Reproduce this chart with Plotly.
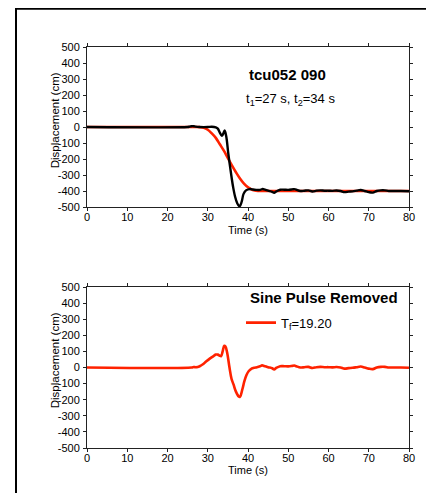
import plotly.graph_objects as go

# ---------------- data ----------------
# Top panel: recorded displacement (black)
t_rec = [0, 25, 25.5, 26, 26.5, 27, 28, 30, 31, 32, 32.5, 33, 33.5, 33.8, 34.2, 34.6,
         35.1, 35.5, 35.9, 36.3, 36.8, 37.3, 37.9, 38.4, 38.9, 39.5, 40.5, 41, 42, 43,
         43.5, 44, 45, 46, 46.5, 47, 48, 49, 50, 51, 51.5, 52, 53, 54, 55, 56, 57, 58,
         59, 60, 61, 62, 63, 64, 65, 66, 67, 68, 69, 70, 71, 72, 73, 74, 75, 76, 78, 80]
d_rec = [0, 0, 2, 5, 5, 2, 0, 0, 2, -2, -10, -35, -55, -45, -22, -60,
         -165, -240, -311, -375, -436, -475, -496, -470, -418, -396, -388, -390, -393, -393,
         -388, -390, -398, -405, -412, -403, -392, -392, -393, -390, -388, -392, -400, -398,
         -396, -403, -398, -396, -398, -398, -399, -397, -400, -407, -404, -402, -398, -394,
         -400, -407, -410, -400, -396, -396, -400, -400, -400, -402]

# Top panel: fitted sine-pulse displacement (red)
t_fit = [0, 27, 28, 29, 30, 31, 32, 33, 34, 35, 36, 37, 38, 39, 40, 41, 42, 43, 44, 80]
d_fit = [0, 0, -1, -5, -17, -40, -68, -108, -148, -195, -240, -283, -322, -354, -377,
         -392, -398, -400, -400, -400]

# Bottom panel: residual after removing the sine pulse (red)
t_res = [0, 26, 26.5, 27, 27.5, 28, 28.8, 29.5, 30.5, 31.5, 32, 32.5, 33, 33.3, 33.7,
         34.1, 34.4, 34.8, 35.4, 35.9, 36.4, 37, 37.7, 38, 38.6, 39.1, 39.6, 40.2, 40.9,
         41.5, 42.2, 43, 43.5, 44, 45, 46, 46.5, 47, 48, 49, 50, 51, 51.5, 52, 53, 54,
         55, 56, 57, 58, 59, 60, 61, 62, 63, 64, 65, 66, 67, 68, 69, 70, 71, 72, 73, 74,
         75, 76, 78, 80]
d_res = [0, 0, 3, 2, 3, 8, 20, 35, 55, 72, 80, 80, 73, 70, 100,
         135, 130, 95, 0, -70, -105, -150, -180, -182, -135, -85, -48, -22, -7,
         -2, 2, 8, 13, 10, 2, -5, -12, -3, 8, 8, 7, 10, 12, 8, 0, 2,
         4, -3, 2, 4, 2, 2, 1, 3, 0, -7, -4, -2, 2, 6, 0, -7, -10, 0, 4, 4,
         0, 0, 0, -2]

x_ticks = [0, 10, 20, 30, 40, 50, 60, 70, 80]
y_ticks = [-500, -400, -300, -200, -100, 0, 100, 200, 300, 400, 500]
y_tick_text = ["-500", "-400", "-300", "-200", "-100", "0", "100", "200", "300", "400", "500"]

top_title = "tcu052 090"
top_sub = "t<sub>1</sub>=27 s, t<sub>2</sub>=34 s"
bottom_title = "Sine Pulse Removed"
legend_name = "T<sub>f</sub>=19.20"

# ---------------- figure ----------------
# The page body has an 8 px margin, so the figure starts at page (8, 8).
OFF = 8
W, H = 426, 485
ML, MR, MT, MB = 79, 25, 39, 45
PW, PH = W - ML - MR, H - MT - MB


def px2x(px):  # page pixel -> paper x
    return (px - OFF - ML) / PW


def py2y(py):  # page pixel -> paper y
    return (H - MB - (py - OFF)) / PH


FONT = "Liberation Sans, Arial, Helvetica, sans-serif"
RED = "#ff2200"

fig = go.Figure()
fig.add_trace(go.Scatter(x=t_fit, y=d_fit, mode="lines", line=dict(color=RED, width=2.6),
                         xaxis="x", yaxis="y", showlegend=False, line_shape="spline"))
fig.add_trace(go.Scatter(x=t_rec, y=d_rec, mode="lines", line=dict(color="black", width=2.4),
                         xaxis="x", yaxis="y", showlegend=False, line_shape="spline"))
fig.add_trace(go.Scatter(x=t_res, y=d_res, mode="lines", line=dict(color=RED, width=2.6),
                         xaxis="x2", yaxis="y2", name=legend_name, showlegend=True,
                         line_shape="spline"))

axis_common = dict(
    showgrid=False, zeroline=False, showline=True, linecolor="#222", linewidth=1,
    mirror="ticks", ticks="outside", ticklen=3, tickcolor="#222", tickwidth=1,
    tickfont=dict(family=FONT, size=11, color="black"),
)

top_dom = [py2y(207), 1.0]
bot_dom = [0.0, py2y(287)]

fig.update_layout(
    width=W, height=H,
    margin=dict(l=ML, r=MR, t=MT, b=MB),
    paper_bgcolor="white", plot_bgcolor="white",
    font=dict(family=FONT, color="black"),
    xaxis=dict(range=[0, 80], tickvals=x_ticks, domain=[0, 1], anchor="y",
               ticklabelstandoff=-3, **axis_common),
    yaxis=dict(range=[-500, 500], tickvals=y_ticks, ticktext=y_tick_text, domain=top_dom,
               anchor="x", ticklabelstandoff=1, **axis_common),
    xaxis2=dict(range=[0, 80], tickvals=x_ticks, domain=[0, 1], anchor="y2",
                ticklabelstandoff=-3, **axis_common),
    yaxis2=dict(range=[-500, 500], tickvals=y_ticks, ticktext=y_tick_text, domain=bot_dom,
                anchor="x2", ticklabelstandoff=1, **axis_common),
    showlegend=True,
    legend=dict(x=px2x(241), y=py2y(322.7), xanchor="left", yanchor="middle",
                bgcolor="rgba(0,0,0,0)", borderwidth=0,
                font=dict(family=FONT, size=13, color="black")),
)

ann = [
    dict(text="<b>" + top_title + "</b>", x=px2x(246.5), y=py2y(74), xanchor="left",
         yanchor="middle", font=dict(size=15)),
    dict(text=top_sub, x=px2x(243.5), y=py2y(99), xanchor="left", yanchor="middle",
         font=dict(size=13)),
    dict(text="<b>" + bottom_title + "</b>", x=px2x(247.5), y=py2y(297.7), xanchor="left",
         yanchor="middle", font=dict(size=15)),
    dict(text="Time (s)", x=0.5, y=py2y(229.5), xanchor="center", yanchor="middle",
         font=dict(size=11)),
    dict(text="Time (s)", x=0.5, y=py2y(469.5), xanchor="center", yanchor="middle",
         font=dict(size=11)),
    dict(text="Displacement (cm)", x=px2x(55.3), y=py2y(120), textangle=-90,
         xanchor="center", yanchor="middle", font=dict(size=11.5)),
    dict(text="Displacement (cm)", x=px2x(55.3), y=py2y(360), textangle=-90,
         xanchor="center", yanchor="middle", font=dict(size=11.5)),
]
for a in ann:
    a.update(xref="paper", yref="paper", showarrow=False)
    a["font"].update(family=FONT, color="black")
fig.update_layout(annotations=ann)

# outer frame (cropped at the right and bottom edges)
fig.add_shape(type="line", xref="paper", yref="paper", x0=px2x(16), x1=px2x(W + OFF + 5),
              y0=py2y(8.7), y1=py2y(8.7), line=dict(color="black", width=2))
fig.add_shape(type="line", xref="paper", yref="paper", x0=px2x(16), x1=px2x(16),
              y0=py2y(8), y1=py2y(H + OFF + 5), line=dict(color="black", width=2))

fig.write_html("out.html")
